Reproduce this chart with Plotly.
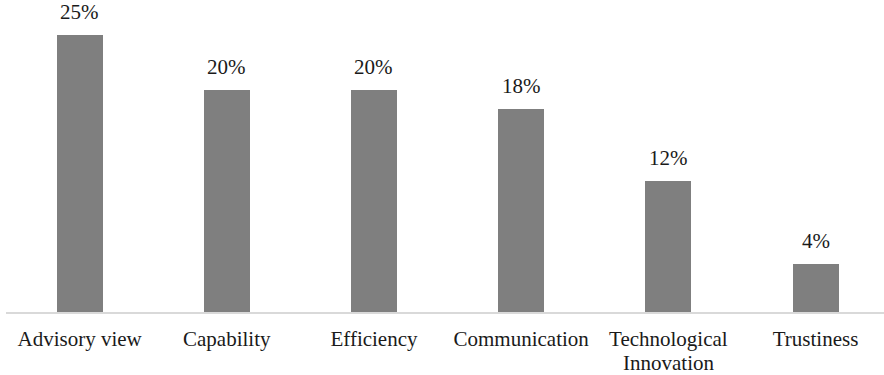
import plotly.graph_objects as go

categories = ["Advisory view", "Capability", "Efficiency", "Communication",
              "Technological", "Trustiness"]
category_second_line = ["", "", "", "", "Innovation", ""]
values = [25, 20, 20, 18.3, 11.8, 4.3]
labels = ["25%", "20%", "20%", "18%", "12%", "4%"]

xs = list(range(len(categories)))
FONT = "Liberation Serif"

fig = go.Figure(go.Bar(
    x=xs,
    y=values,
    width=0.3125,
    marker=dict(color="#7f7f7f", line=dict(width=0)),
    hoverinfo="skip",
))

for x, v, t in zip(xs, values, labels):
    fig.add_annotation(
        x=x, y=v, text=t, showarrow=False, yanchor="bottom", yshift=9,
        font=dict(family=FONT, size=21, color="#1a1a1a"),
    )

for x, t in zip(xs, category_second_line):
    if t:
        fig.add_annotation(
            x=x, y=0, yref="paper", text=t, showarrow=False, yanchor="top",
            yshift=-37, font=dict(family=FONT, size=21, color="#1a1a1a"),
        )

fig.update_layout(
    width=884, height=375,
    margin=dict(l=6, r=0, t=0, b=63, autoexpand=False),
    paper_bgcolor="white", plot_bgcolor="white",
    font=dict(family=FONT, size=21, color="#1a1a1a"),
    showlegend=False,
    bargap=0,
)
fig.update_xaxes(
    tickmode="array", tickvals=xs, ticktext=categories,
    range=[-0.5, 5.465], showline=True, linecolor="#d9d9d9", linewidth=2,
    showgrid=False, zeroline=False, ticks="", ticklabelstandoff=7,
    automargin=False,
    tickfont=dict(family=FONT, size=21, color="#1a1a1a"),
)
fig.update_yaxes(range=[0, 28.16], visible=False, showgrid=False, zeroline=False,
                 automargin=False)

fig.write_html("out.html")
